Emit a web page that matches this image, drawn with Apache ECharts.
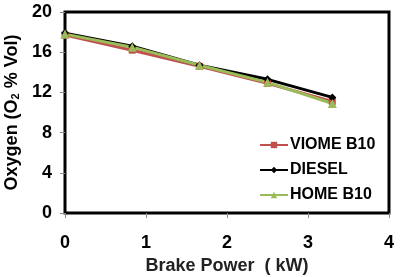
<!DOCTYPE html>
<html>
<head>
<meta charset="utf-8">
<script src="https://cdn.jsdelivr.net/npm/echarts@6/dist/echarts.min.js"></script>
<style>
  html, body { margin: 0; padding: 0; background: #fff; }
  #chart { width: 404px; height: 277px; }
</style>
</head>
<body>
<div id="chart"></div>
<script>
var power = [0, 0.83, 1.66, 2.5, 3.3];
var viome = [17.7, 16.2, 14.6, 12.9, 11.1];
var diesel = [17.9, 16.6, 14.7, 13.3, 11.5];
var home = [17.8, 16.5, 14.7, 13.0, 10.9];
var seriesNames = ['VIOME B10', 'DIESEL', 'HOME B10'];

function pairs(ys) {
  return power.map(function(x, i) { return [x, ys[i]]; });
}

var chart = echarts.init(document.getElementById('chart'), null, { renderer: 'canvas' });
var font = 'Arial, "Liberation Sans", sans-serif';

chart.setOption({
  animation: false,
  textStyle: { fontFamily: font },
  grid: {
    left: 65, right: 15, top: 12, bottom: 64,
    outerBoundsMode: 'none', containLabel: false,
    show: true, borderColor: '#000', borderWidth: 3, backgroundColor: '#fff'
  },
  legend: {
    orient: 'vertical',
    left: 254, top: 132,
    itemWidth: 28, itemHeight: 8, itemGap: 9,
    textStyle: { fontFamily: font, fontSize: 16, fontWeight: 'bold', color: '#000', padding: [0, 0, 0, -3] },
    data: seriesNames
  },
  xAxis: {
    type: 'value', min: 0, max: 4, interval: 1,
    name: 'Brake Power  ( kW)', nameLocation: 'middle', nameGap: 43,
    nameTextStyle: { fontFamily: font, fontSize: 18, fontWeight: 'bold', color: '#222' },
    axisLine: { show: true, lineStyle: { color: '#000', width: 2 } },
    axisTick: { show: true, inside: false, length: 5, lineStyle: { color: '#888' } },
    axisLabel: { margin: 21, fontFamily: font, fontSize: 18, fontWeight: 'bold', color: '#000' },
    splitLine: { show: false }
  },
  yAxis: {
    type: 'value', min: 0, max: 20, interval: 4,
    name: 'Oxygen (O{sub|2} % Vol)', nameLocation: 'middle', nameGap: 43, nameRotate: 90,
    nameTextStyle: {
      fontFamily: font, fontSize: 18, fontWeight: 'bold', color: '#000',
      rich: { sub: { fontFamily: font, fontSize: 11, fontWeight: 'bold', color: '#000', verticalAlign: 'bottom', padding: [8, 0, 0, 0] } }
    },
    axisLine: { show: true, lineStyle: { color: '#000', width: 2 } },
    axisTick: { show: true, inside: false, length: 5, lineStyle: { color: '#888' } },
    axisLabel: { margin: 13, fontFamily: font, fontSize: 18, fontWeight: 'bold', color: '#000' },
    splitLine: { show: false }
  },
  series: [
    {
      name: seriesNames[0], type: 'line', data: pairs(viome),
      symbol: 'rect', symbolSize: 7,
      itemStyle: { color: '#C0504D' },
      lineStyle: { color: '#C0504D', width: 3 }
    },
    {
      name: seriesNames[1], type: 'line', data: pairs(diesel),
      symbol: 'diamond', symbolSize: 8,
      itemStyle: { color: '#000' },
      lineStyle: { color: '#000', width: 3 }
    },
    {
      name: seriesNames[2], type: 'line', data: pairs(home),
      symbol: 'triangle', symbolSize: 9,
      itemStyle: { color: '#9BBB59' },
      lineStyle: { color: '#9BBB59', width: 3 }
    }
  ]
});
</script>
</body>
</html>
